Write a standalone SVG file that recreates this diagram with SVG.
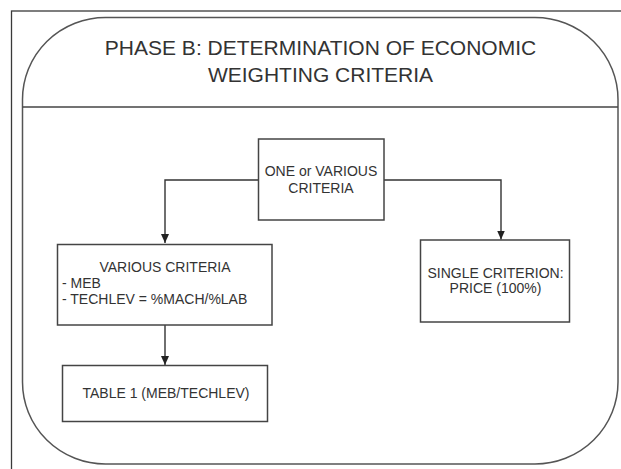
<svg xmlns="http://www.w3.org/2000/svg" width="621" height="469" viewBox="0 0 621 469">
<defs>
<style>
.frame{fill:none;stroke:#3a3a3a;stroke-width:1.3}
.box{fill:#fff;stroke:#444;stroke-width:1.5}
.conn{fill:none;stroke:#333;stroke-width:1.4}
text{font-family:"Liberation Sans",Arial,sans-serif;fill:#333}
.t{font-size:14px;text-anchor:middle}
.tl{font-size:14px}
.title{font-size:21px;text-anchor:middle}
</style>
<marker id="ah" markerWidth="10" markerHeight="10" refX="9" refY="5" orient="auto" markerUnits="userSpaceOnUse">
<path d="M0,1 L9,5 L0,9 Z" fill="#222"/>
</marker>
</defs>
<rect width="621" height="469" fill="#fff"/>
<rect class="frame" x="11.5" y="11" width="620" height="470"/>
<g id="phase">
<rect x="22.5" y="17.5" width="595.5" height="446.5" rx="83" ry="82" fill="#fff" stroke="#555" stroke-width="1.5"/>
<line x1="22.5" y1="107" x2="618" y2="107" stroke="#444" stroke-width="1.5"/>
<text class="title" x="320.5" y="55">PHASE B: DETERMINATION OF ECONOMIC</text>
<text class="title" x="320.5" y="82">WEIGHTING CRITERIA</text>
</g>
<g id="connectors">
<polyline class="conn" points="258.5,180 165,180 165,243" marker-end="url(#ah)"/>
<polyline class="conn" points="384,180 501,180 501,239.5" marker-end="url(#ah)"/>
<line class="conn" x1="165" y1="325" x2="165" y2="365" marker-end="url(#ah)"/>
</g>
<g id="one">
<rect class="box" x="258.5" y="139" width="125.5" height="81"/>
<text class="t" x="321" y="175.5">ONE or VARIOUS</text>
<text class="t" x="321" y="192.5">CRITERIA</text>
</g>
<g id="various">
<rect class="box" x="57.5" y="244.5" width="214.5" height="80.5"/>
<text class="t" x="165" y="271.5">VARIOUS CRITERIA</text>
<text class="tl" x="62" y="288.3">- MEB</text>
<text class="tl" x="62" y="304.3">- TECHLEV = %MACH/%LAB</text>
</g>
<g id="single">
<rect class="box" x="420.5" y="240" width="149" height="82"/>
<text class="t" x="495.5" y="278">SINGLE CRITERION:</text>
<text class="t" x="495.5" y="292.5">PRICE (100%)</text>
</g>
<g id="table">
<rect class="box" x="62.5" y="365.5" width="205" height="56"/>
<text class="t" x="166" y="398.3">TABLE 1 (MEB/TECHLEV)</text>
</g>
</svg>
